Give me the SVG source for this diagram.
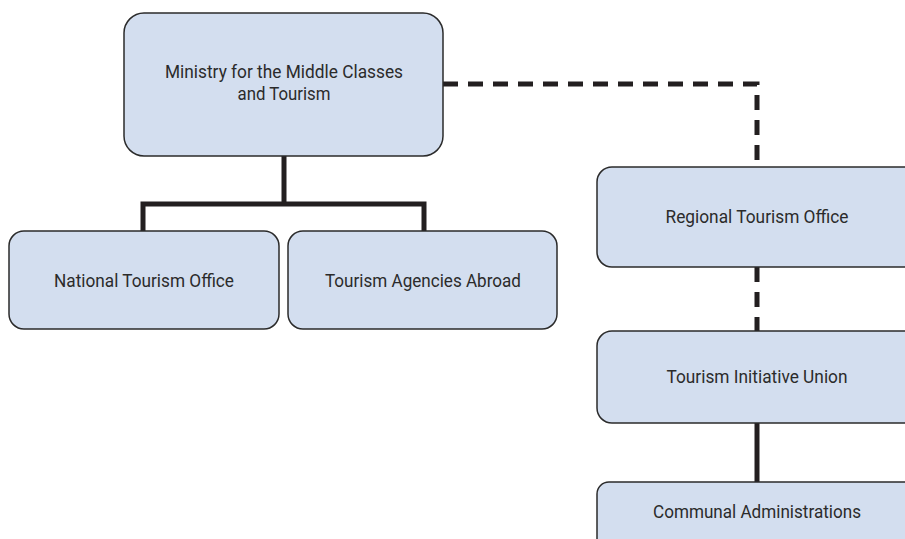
<svg xmlns="http://www.w3.org/2000/svg" width="905" height="539" viewBox="0 0 905 539">
<style>
.box{fill:#d3deef;stroke:#2b2b2b;stroke-width:1.5}
.lbl{font-family:"Roboto","Liberation Sans",sans-serif;font-size:19px;fill:#2b2b2b;text-anchor:middle}
.solid{fill:none;stroke:#231f20;stroke-width:5}
.dash{fill:none;stroke:#231f20;stroke-width:5;stroke-dasharray:15 10}
</style>
<rect width="905" height="539" fill="#ffffff"/>
<g id="connectors">
<path class="solid" d="M284 156 V204 M143 231 V204 H424 V231"/>
<path class="dash" d="M443 84 H757 V167"/>
<path class="dash" d="M757 267 V331"/>
<path class="solid" d="M757 423 V482"/>
</g>
<g id="ministry">
<rect class="box" x="124" y="13" width="319" height="143" rx="20"/>
<text class="lbl" x="284" y="78" textLength="238" lengthAdjust="spacingAndGlyphs">Ministry for the Middle Classes</text>
<text class="lbl" x="284" y="100" textLength="93" lengthAdjust="spacingAndGlyphs">and Tourism</text>
</g>
<g id="national">
<rect class="box" x="9" y="231" width="270" height="98" rx="15"/>
<text class="lbl" x="144" y="287" textLength="180" lengthAdjust="spacingAndGlyphs">National Tourism Office</text>
</g>
<g id="agencies">
<rect class="box" x="288" y="231" width="269" height="98" rx="15"/>
<text class="lbl" x="423" y="287" textLength="196" lengthAdjust="spacingAndGlyphs">Tourism Agencies Abroad</text>
</g>
<g id="regional">
<rect class="box" x="597" y="167" width="330" height="100" rx="15"/>
<text class="lbl" x="757" y="223" textLength="183" lengthAdjust="spacingAndGlyphs">Regional Tourism Office</text>
</g>
<g id="initiative">
<rect class="box" x="597" y="331" width="330" height="92" rx="15"/>
<text class="lbl" x="757" y="383" textLength="181" lengthAdjust="spacingAndGlyphs">Tourism Initiative Union</text>
</g>
<g id="communal">
<rect class="box" x="597" y="482" width="330" height="80" rx="12"/>
<text class="lbl" x="757" y="518" textLength="208" lengthAdjust="spacingAndGlyphs">Communal Administrations</text>
</g>
</svg>
